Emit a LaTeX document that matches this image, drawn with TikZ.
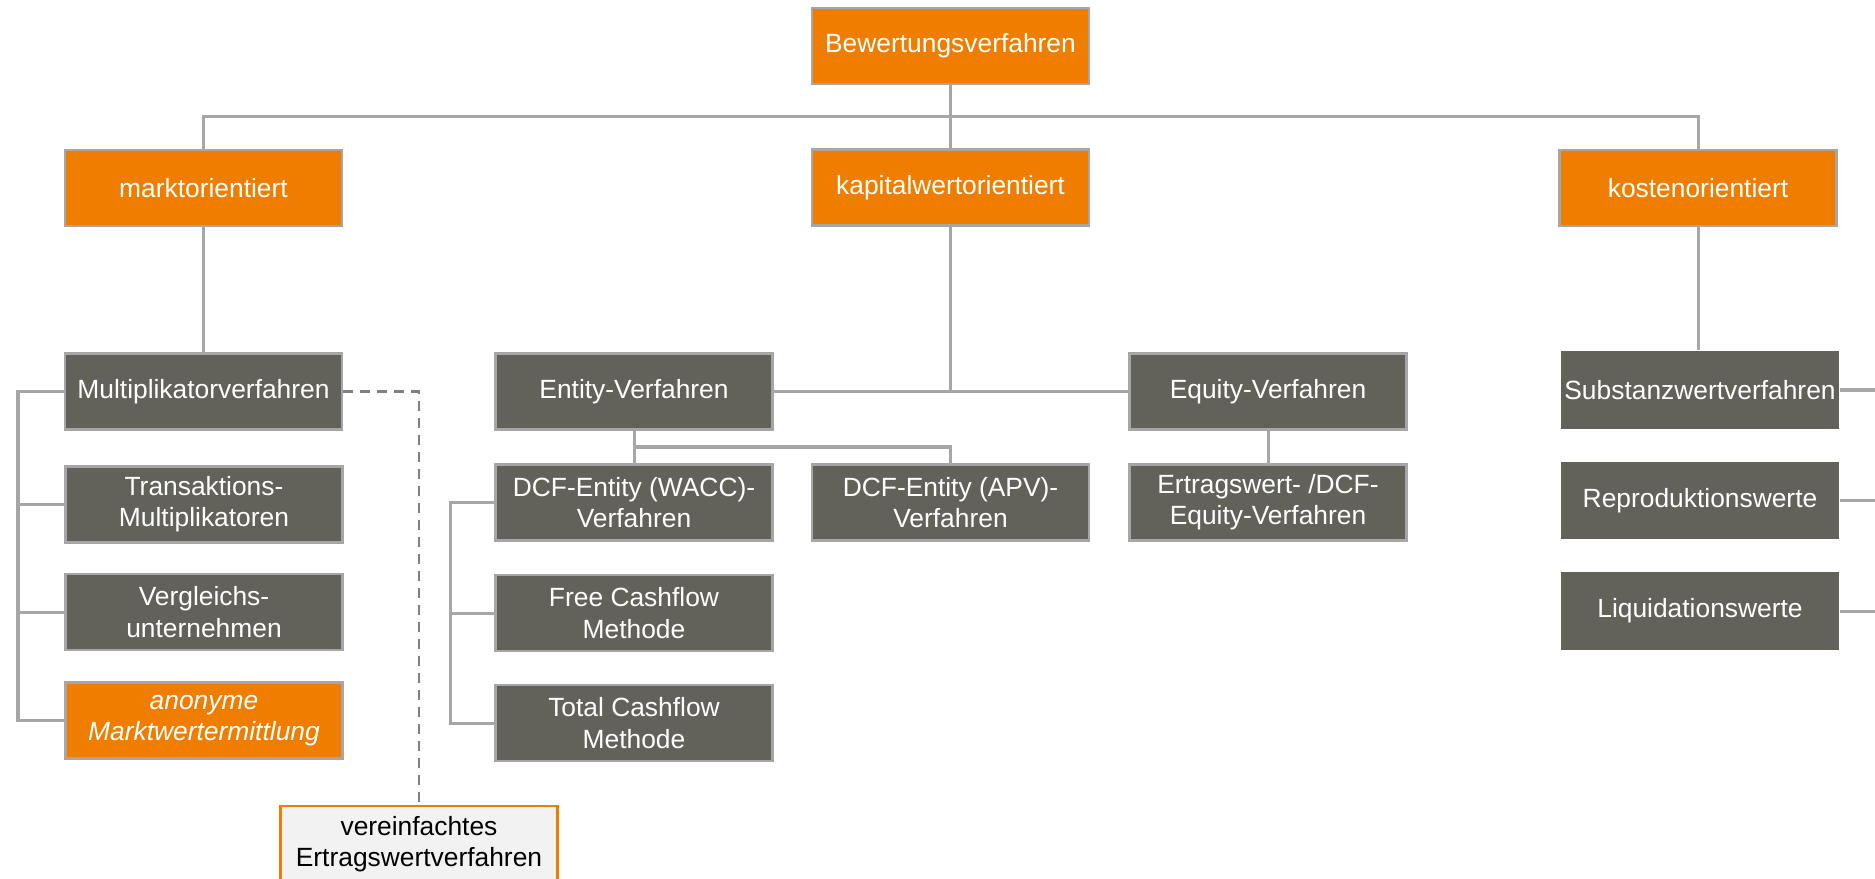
\documentclass[tikz,border=0pt]{standalone}
\usepackage{fontspec}
\setmainfont{Liberation Sans}
\definecolor{bworange}{RGB}{238,125,0}
\definecolor{bwgrau}{RGB}{99,98,90}
\definecolor{bwlinie}{RGB}{166,166,166}
\definecolor{bwhell}{RGB}{242,242,242}
\begin{document}
\begin{tikzpicture}[
     x=0.01cm, y=-0.01cm,
     box/.style={rectangle,draw=bwlinie,line width=0.25mm,minimum width=2.77cm,minimum height=0.76cm,
       inner sep=0pt,align=center,text=white,font=\fontsize{7.5}{8.9}\selectfont},
     ora/.style={box,fill=bworange},
     grau/.style={box,fill=bwgrau},
     grauR/.style={box,fill=bwgrau,draw=none,minimum width=2.78cm,minimum height=0.77cm},
     hell/.style={box,fill=bwhell,draw=bworange,text=black},
     verb/.style={draw=bwlinie,line width=0.3mm},
     verbdash/.style={draw=black!50,line width=0.25mm,dash pattern=on 1mm off 0.7mm}
   ]
   \useasboundingbox (0,0) rectangle (1875,879);
   % Ebene 0 und 1.
   \node[ora] (bew) at (950.5,46) {Bewertungsverfahren};
   \node[ora] (markt) at (203.5,188) {marktorientiert};
   \node[ora] (kapital) at (950.5,187.5) {kapitalwertorientiert};
   \node[ora] (kosten) at (1698,188) {kostenorientiert};
   % Ebene 2.
   \node[grau] (multi) at (203.5,391.5) {Multiplikatorverfahren};
   \node[grau] (entity) at (634,391.5) {Entity-Verfahren};
   \node[grau] (equity) at (1268,391.5) {Equity-Verfahren};
   \node[grauR] (subst) at (1700,390) {Substanzwertverfahren};
   % Ebene 3.
   \node[grau] (trans) at (204,504.5) {Transaktions-\\Multiplikatoren};
   \node[grau] (vergl) at (204,612) {Vergleichs-\\unternehmen};
   \node[ora] (anonym) at (204,720.5) {\itshape anonyme\\\itshape Marktwertermittlung};
   \node[grau] (wacc) at (634,502.5) {DCF-Entity (WACC)-\\Verfahren};
   \node[grau] (apv) at (950.5,502.5) {DCF-Entity (APV)-\\Verfahren};
   \node[grau] (ertrag) at (1268,502.5) {Ertragswert- /DCF-\\Equity-Verfahren};
   \node[grau] (free) at (634,613) {Free Cashflow\\Methode};
   \node[grau] (total) at (634,723) {Total Cashflow\\Methode};
   \node[grauR] (repro) at (1700,500.5) {Reproduktionswerte};
   \node[grauR] (liquid) at (1700,611) {Liquidationswerte};
   \node[hell] (verein) at (419,844) {vereinfachtes\\Ertragswertverfahren};
   % Verbindungen.
   \coordinate (top) at (950.5,117);
   \coordinate (mk) at (18,0);
   \coordinate (wb) at (450,0);
   \coordinate (ej) at (634,447);
   \coordinate (rb) at (1890,0);
   \draw[verb] (bew) -- (kapital);
   \draw[verb] (markt.north) |- (top) -| (kosten.north);
   \draw[verb] (markt) -- (multi);
   \draw[verb] (kapital.south) -- (kapital.south |- entity.east);
   \draw[verb] (entity) -- (equity);
   \draw[verb] (kosten.south) -- (kosten.south |- subst.north);
   \draw[verb] (multi.west) -| (mk |- anonym.west) -- (anonym.west);
   \draw[verb] (mk |- trans.west) -- (trans.west);
   \draw[verb] (mk |- vergl.west) -- (vergl.west);
   \draw[verb] (entity) -- (wacc);
   \draw[verb] (ej) -| (apv.north);
   \draw[verb] (equity) -- (ertrag);
   \draw[verb] (wacc.west) -| (wb |- total.west) -- (total.west);
   \draw[verb] (wb |- free.west) -- (free.west);
   \draw[verb] (subst.east) -- (subst.east -| rb);
   \draw[verb] (repro.east) -- (repro.east -| rb);
   \draw[verb] (liquid.east) -- (liquid.east -| rb);
   \draw[verbdash] (multi.east) -| (verein.north);
 \end{tikzpicture}
\end{document}
